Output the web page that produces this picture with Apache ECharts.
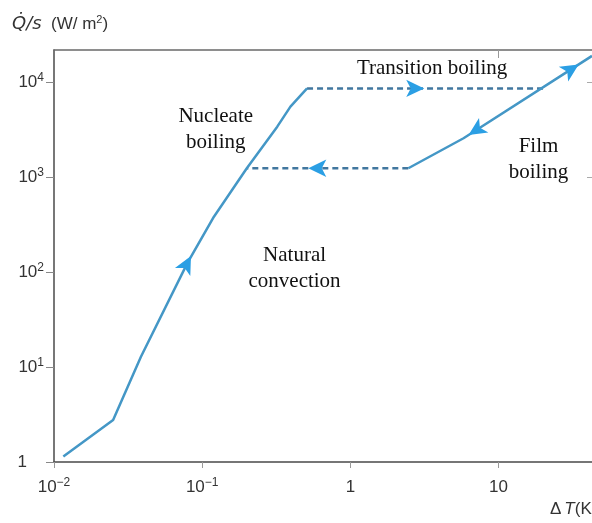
<!DOCTYPE html>
<html>
<head>
<meta charset="utf-8">
<script src="https://cdn.jsdelivr.net/npm/echarts@6/dist/echarts.min.js"></script>
<style>html,body{margin:0;padding:0;background:#fff;}#c{width:592px;height:523px;}</style>
</head>
<body>
<div id="c"></div>
<script>
// ---- data ----
const xTicks = [0.01, 0.1, 1, 10];
const yTicks = [1, 10, 100, 1000, 10000];
const xRange = [0.01, 42.7];
const yRange = [1, 21700];

const nucleateX = [0.01156, 0.02506, 0.0386, 0.0794, 0.120, 0.2, 0.321, 0.394, 0.51];
const nucleateY = [1.14, 2.77, 12.8, 124, 382, 1235, 3383, 5500, 8550];

const transUpX = [0.51, 21.1];
const transUpY = [8550, 8550];

const transDownX = [2.46, 0.2];
const transDownY = [1235, 1235];

const filmX = [2.46, 5.8, 42.7];
const filmY = [1235, 2555, 18800];

const arrowX = [0.084, 3.15, 0.52, 6.27, 34.7];
const arrowY = [147, 8550, 1235, 2770, 15300];
const arrowRot = [-27.6, -90, 90, 122.6, -57.4];

const noteText = ['Nucleate\nboiling', 'Transition boiling', 'Natural\nconvection', 'Film\nboiling'];
const noteX = [0.1234, 3.56, 0.42, 18.6];
const noteY = [3126, 13700, 110, 1546];

// ---- chart ----
const zip = (xs, ys) => xs.map((x, i) => [x, ys[i]]);
const lineColor = '#4497c6';
const dashColor = '#41779f';
const arrowColor = '#2b9fe4';

function xFmt(v) {
  const e = Math.round(Math.log10(v));
  if (e === 0) return '{b|1}';
  if (e === 1) return '{b|10}';
  return '{b|10}{s|' + (e < 0 ? '\u2212' : '') + Math.abs(e) + '}';
}
function yFmt(v) {
  const e = Math.round(Math.log10(v));
  if (e === 0) return '{one|1}';
  return '{b|10}{s|' + e + '}';
}
const richLab = {
  b: { fontSize: 17, lineHeight: 20, fontFamily: 'Liberation Sans', color: '#333' },
  s: { fontSize: 12, padding: [0, 0, 8, 0], fontFamily: 'Liberation Sans', color: '#333' },
  one: { fontSize: 17, lineHeight: 20, padding: [0, 17, 0, 0], fontFamily: 'Liberation Sans', color: '#333' }
};
const axisLineStyle = { color: '#4a4a4a', width: 1.5 };

const chart = echarts.init(document.getElementById('c'), null, { renderer: 'canvas' });
chart.setOption({
  animation: false,
  backgroundColor: '#fff',
  grid: { left: 54, right: 0, top: 50, bottom: 61 },
  xAxis: [{
    type: 'log', logBase: 10, min: xRange[0], max: xRange[1],
    axisLine: { show: true, lineStyle: axisLineStyle },
    axisTick: { show: true, inside: false, length: 6, lineStyle: { color: '#999' }, customValues: xTicks },
    axisLabel: { margin: 15, formatter: xFmt, rich: richLab, customValues: xTicks },
    splitLine: { show: false }, minorTick: { show: false }
  }, {
    type: 'log', logBase: 10, min: xRange[0], max: xRange[1], position: 'top',
    axisLine: { show: true, lineStyle: { color: '#6a6a6a', width: 1.5 } },
    axisTick: { show: true, inside: true, length: 8, lineStyle: { color: '#999' }, customValues: [10] },
    axisLabel: { show: false },
    splitLine: { show: false }
  }],
  yAxis: [{
    type: 'log', logBase: 10, min: yRange[0], max: yRange[1],
    axisLine: { show: true, lineStyle: axisLineStyle },
    axisTick: { show: true, inside: false, length: 8, lineStyle: { color: '#888' }, customValues: yTicks },
    axisLabel: { margin: 10, formatter: yFmt, rich: richLab, customValues: yTicks },
    splitLine: { show: false }
  }, {
    type: 'log', logBase: 10, min: yRange[0], max: yRange[1], position: 'right',
    axisLine: { show: false },
    axisTick: { show: true, inside: true, length: 5, lineStyle: { color: '#aaa' }, customValues: [1000, 10000] },
    axisLabel: { show: false },
    splitLine: { show: false }
  }],
  graphic: [{
    type: 'text', left: 12, top: 14, z: 10,
    style: {
      text: '{i|Q\u0307/s}{n|  (W/ m}{p|2}{n|)}',
      rich: {
        i: { fontSize: 18, fontStyle: 'italic', fontFamily: 'DejaVu Sans', fill: '#333', lineHeight: 24 },
        n: { fontSize: 17, fontFamily: 'Liberation Sans', fill: '#333', lineHeight: 24 },
        p: { fontSize: 11, padding: [0, 0, 9, 0], fontFamily: 'Liberation Sans', fill: '#333' }
      }
    }
  }, {
    type: 'text', left: 550, top: 501, z: 10,
    style: {
      text: '{n|\u0394}{i|T}{n|(K)}',
      rich: {
        i: { fontSize: 17, fontStyle: 'italic', fontFamily: 'Liberation Sans', fill: '#333', lineHeight: 20, padding: [0, 0, 0, 3] },
        n: { fontSize: 17, fontFamily: 'Liberation Sans', fill: '#333', lineHeight: 20 }
      }
    }
  }],
  series: [{
    type: 'line', name: 'nucleate', data: zip(nucleateX, nucleateY),
    symbol: 'none', lineStyle: { color: lineColor, width: 2.5 }, z: 3
  }, {
    type: 'line', name: 'transitionUp', data: zip(transUpX, transUpY),
    symbol: 'none', lineStyle: { color: dashColor, width: 2.5, type: [6, 4] }, z: 2
  }, {
    type: 'line', name: 'transitionDown', data: zip(transDownX, transDownY),
    symbol: 'none', lineStyle: { color: dashColor, width: 2.5, type: [6, 4] }, z: 2
  }, {
    type: 'line', name: 'film', data: zip(filmX, filmY),
    symbol: 'none', lineStyle: { color: lineColor, width: 2.5 }, z: 3
  }, {
    type: 'scatter', name: 'arrows', z: 5,
    data: arrowX.map((x, i) => ({ value: [x, arrowY[i]], symbolRotate: arrowRot[i] })),
    symbol: 'arrow', symbolSize: [13, 18],
    itemStyle: { color: arrowColor, opacity: 1 }
  }, {
    type: 'scatter', name: 'notes', z: 6, silent: true,
    data: noteX.map((x, i) => ({ value: [x, noteY[i]], name: noteText[i] })),
    symbol: 'circle', symbolSize: 2, itemStyle: { color: 'rgba(255,255,255,0)' },
    label: {
      show: true, position: 'inside', formatter: p => p.name,
      fontFamily: 'Liberation Serif', fontSize: 21, lineHeight: 26, color: '#111',
      textBorderWidth: 0, textBorderColor: 'transparent', opacity: 1, align: 'center'
    }
  }]
});
</script>
</body>
</html>
